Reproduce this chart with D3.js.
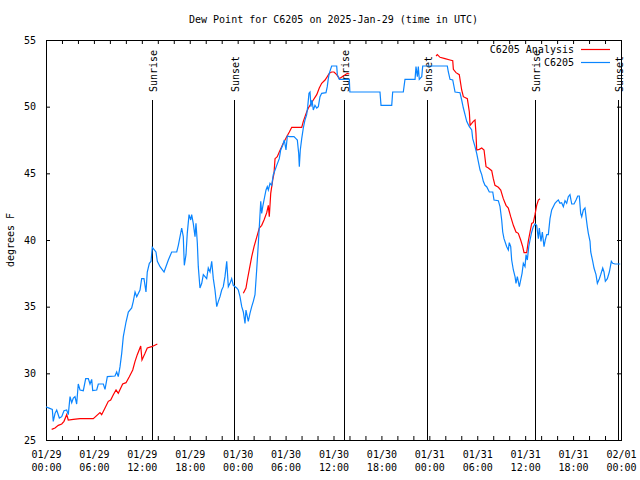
<!DOCTYPE html>
<html><head><meta charset="utf-8">
<script src="https://cdn.jsdelivr.net/npm/d3@7"></script>
<style>
html,body{margin:0;padding:0;background:#fff;}
svg{display:block;}
text{font-family:"DejaVu Sans Mono",monospace;font-size:10px;fill:#000;}
</style></head>
<body>
<script>
// ---- data (hours since 2025-01-29 00:00 UTC, dew point in °F) ----
const obsHours = [0.0,0.16,0.79,0.91,1.13,1.34,1.67,1.97,2.25,2.59,2.79,3.01,3.22,3.42,3.63,3.84,4.04,4.26,4.67,4.97,5.30,5.51,5.72,5.85,6.35,6.55,7.18,7.39,7.68,8.64,8.85,9.05,9.27,9.48,9.68,10.02,10.31,10.73,10.93,11.15,11.36,11.77,11.98,12.27,12.52,12.68,12.94,13.15,13.31,13.77,13.94,14.28,14.78,15.32,15.74,16.37,16.57,16.99,17.19,17.32,17.53,17.69,17.91,18.12,18.24,18.44,18.66,18.78,18.95,19.07,19.28,19.50,19.70,20.12,20.32,20.54,20.75,20.95,21.16,21.38,21.58,21.79,22.00,22.20,22.41,22.63,22.83,23.04,23.25,23.45,23.88,24.08,24.29,24.51,24.71,24.92,25.04,25.21,25.33,25.54,25.76,25.96,26.17,26.38,26.59,26.71,26.89,27.01,27.14,27.30,27.55,27.71,27.84,28.05,28.26,28.46,28.68,28.89,29.21,29.39,29.64,29.84,30.05,30.22,30.47,31.05,31.30,31.47,31.64,31.72,31.84,32.02,32.22,32.43,32.64,32.77,32.93,33.06,33.18,33.31,33.47,33.68,33.90,34.10,34.31,34.52,35.06,35.22,35.35,35.47,35.77,36.40,36.48,36.73,37.98,38.05,41.82,41.95,43.29,43.41,44.74,44.95,46.21,46.33,46.50,46.62,46.74,47.05,47.17,50.25,50.38,50.59,50.93,51.22,51.84,52.05,52.26,52.47,52.68,53.01,53.31,53.43,53.72,53.93,54.13,54.35,54.56,54.76,54.97,55.18,55.51,55.94,56.10,56.64,56.85,57.06,57.19,57.35,57.69,57.89,58.01,58.19,58.31,58.52,58.73,58.85,59.02,59.27,59.44,59.61,59.77,59.98,60.11,60.27,60.45,60.61,60.82,61.02,61.23,61.44,61.65,61.77,61.98,62.15,62.36,62.52,62.70,62.90,63.11,63.32,63.52,63.73,63.95,64.15,64.36,64.57,64.78,64.99,65.20,65.40,65.61,65.83,66.12,66.37,66.58,66.78,66.95,67.08,67.28,67.49,67.62,67.78,67.91,68.12,68.21,68.46,68.62,68.87,69.04,69.29,69.46,69.71,69.87,70.04,70.29,70.54,70.79,70.96,71.25,71.66,71.90];
const obsDew = [27.5,27.45,27.3,26.4,27.0,27.25,26.65,26.75,27.2,27.25,26.9,28.25,27.8,28.15,28.25,27.7,29.2,28.75,28.7,29.6,29.6,29.2,29.55,28.7,28.75,29.2,29.2,28.8,29.75,29.8,30.1,29.75,30.5,31.5,32.75,33.85,34.6,34.9,35.4,36.1,35.75,36.25,37.1,37.1,36.1,37.6,38.25,38.4,39.45,39.1,38.4,38.0,37.6,38.5,39.1,39.1,39.6,40.9,40.25,38.1,38.9,40.5,41.9,41.5,41.9,41.25,40.25,41.25,39.75,38.0,36.4,36.75,37.4,37.1,37.9,37.6,38.4,37.1,36.25,35.0,35.4,35.75,36.25,36.5,37.25,38.4,36.5,36.75,37.1,36.6,36.4,36.25,35.75,35.0,34.6,33.75,34.75,34.25,33.9,34.5,35.0,35.4,35.9,37.75,39.75,41.0,42.9,42.0,42.5,43.0,43.75,44.0,43.75,44.25,44.1,44.9,45.25,45.6,46.1,46.75,47.1,47.5,46.75,47.8,47.75,47.75,47.6,47.5,46.5,45.5,46.75,47.6,48.4,49.0,49.4,50.0,51.0,51.1,50.0,50.5,49.75,50.1,49.9,50.0,50.75,51.0,51.05,51.5,52.1,52.5,53.05,53.05,52.4,52.05,52.05,51.1,51.1,50.1,50.1,51.1,51.1,52.05,52.05,53.0,52.25,53.0,52.05,52.25,53.05,53.05,52.6,52.05,52.0,51.1,51.05,50.5,49.9,49.4,48.9,48.5,48.25,47.6,47.0,46.5,45.9,45.25,44.9,44.4,44.1,44.0,43.6,43.6,43.0,42.95,42.5,41.5,40.6,40.1,39.5,39.25,39.8,39.5,38.5,37.75,37.25,36.75,37.25,36.5,37.0,37.5,38.25,38.0,38.9,38.5,39.5,40.0,40.6,41.0,41.2,41.1,40.1,40.9,39.9,40.6,39.5,40.0,40.4,40.4,41.6,42.25,42.5,42.75,42.9,43.0,42.75,42.8,42.5,42.95,42.75,43.25,43.4,42.7,42.7,43.0,43.3,43.3,42.0,41.75,42.25,42.4,41.75,41.0,40.5,39.9,39.1,38.4,37.9,37.4,36.75,37.1,37.4,37.9,37.6,36.9,37.1,37.6,38.4,38.25,38.2,38.2,38.2];

// analysis series; null marks a gap
const anaHours = [0.71,1.13,1.54,1.97,2.25,2.59,2.79,3.42,4.26,5.30,5.92,6.76,6.97,7.39,7.80,8.10,8.43,8.77,9.05,9.60,10.02,10.43,10.86,11.15,11.43,11.86,12.02,12.40,12.68,13.24,13.94,
  null,
  24.71,25.04,25.21,25.46,25.76,26.05,26.38,26.71,27.01,27.30,27.64,27.84,27.96,28.14,28.39,28.55,28.68,28.96,29.21,29.51,29.71,30.14,30.47,30.77,32.02,32.22,32.43,32.64,32.85,33.06,33.47,33.90,34.22,34.52,34.94,35.22,35.47,35.77,36.06,36.40,36.73,37.23,37.73,37.98,
  null,
  48.84,49.00,49.34,49.96,50.59,50.93,51.01,51.34,51.75,52.05,52.26,52.76,53.01,53.10,53.31,53.51,53.72,53.84,53.93,54.26,54.56,54.85,55.10,55.39,55.81,56.01,56.22,56.64,56.94,57.26,57.60,57.89,58.19,58.52,58.85,59.14,59.44,59.69,59.86,60.19,60.39,60.61,60.82,61.02,61.23,61.44,61.65,61.86];
const anaDew = [25.8,25.9,26.1,26.2,26.4,26.9,26.5,26.55,26.6,26.6,26.6,27.05,26.9,27.4,27.9,28.0,28.4,28.75,28.5,29.2,29.3,29.75,30.25,30.9,31.4,32.05,31.0,31.5,31.9,32.0,32.2,
  null,
  36.0,36.4,37.0,37.8,38.75,39.5,40.2,40.9,41.1,41.5,42.05,42.6,41.75,43.5,44.5,45.0,46.1,46.25,46.6,47.0,47.25,47.75,48.1,48.45,48.45,48.9,49.25,49.6,49.9,50.1,50.5,50.9,51.4,51.75,52.0,52.25,52.5,52.6,52.6,52.4,52.1,52.3,52.5,52.45,
  null,
  53.8,53.9,53.7,53.6,53.5,53.45,52.8,52.55,52.4,51.25,50.75,50.6,49.6,48.6,48.75,48.9,49.0,48.0,46.75,46.8,46.9,46.75,45.5,45.4,45.2,44.6,44.1,43.95,43.75,43.1,42.6,42.4,41.75,41.1,40.6,40.5,40.0,39.5,39.05,39.05,39.9,40.6,41.25,41.3,41.9,42.6,43.0,43.1];

const sunLabels = ["Sunrise","Sunset","Sunrise","Sunset","Sunrise","Sunset"];
const sunHours = [13.31,23.58,37.35,47.67,61.27,71.66];

const yTicks = [25,30,35,40,45,50,55];
const seriesNames = ["C6205 Analysis","C6205"];
const seriesColors = ["#ff0000","#0a85ff"];
const titleText = "Dew Point for C6205 on 2025-Jan-29 (time in UTC)";
const yLabel = "degrees F";

// ---- chart ----
const W = 640, H = 480;
const L = 46, R = 621, T = 40, B = 440;
const t0 = Date.UTC(2025,0,29);
const toDate = h => new Date(t0 + h*3600e3);

const svg = d3.select("body").append("svg").attr("width",W).attr("height",H);

const x = d3.scaleUtc().domain([new Date(t0), new Date(Date.UTC(2025,1,1))]).range([L,R]);
const y = d3.scaleLinear().domain([25,55]).range([B,T]);

const tick2h = d3.utcHour.every(2).range(x.domain()[0], new Date(+x.domain()[1]+1));
const tick6h = d3.utcHour.every(6).range(x.domain()[0], new Date(+x.domain()[1]+1));

function clean(g){ g.select(".domain").remove(); g.selectAll("line").attr("stroke","#000"); }

// bottom minor/major ticks
svg.append("g").attr("transform",`translate(0,${B})`)
  .call(d3.axisBottom(x).tickValues(tick2h).tickSize(-4).tickFormat(""))
  .call(clean);
svg.append("g").attr("transform",`translate(0,${T})`)
  .call(d3.axisTop(x).tickValues(tick2h).tickSize(-4).tickFormat(""))
  .call(clean);
// bottom labels
const fmtD = d3.utcFormat("%m/%d"), fmtT = d3.utcFormat("%H:%M");
const xl = svg.append("g").attr("transform",`translate(0,${B})`)
  .call(d3.axisBottom(x).tickValues(tick6h).tickSize(0).tickFormat(""))
  .call(clean);
xl.selectAll(".tick").each(function(d){
  const t = d3.select(this).append("text").attr("text-anchor","middle").attr("fill","#000")
    .style("font-family","DejaVu Sans Mono, monospace").style("font-size","10px");
  t.append("tspan").attr("x",0).attr("y",18).text(fmtD(d));
  t.append("tspan").attr("x",0).attr("y",31).text(fmtT(d));
});

// y axes
svg.append("g").attr("transform",`translate(${L},0)`)
  .call(d3.axisLeft(y).tickValues(yTicks).tickSize(-4).tickPadding(10).tickFormat(d3.format("d")))
  .call(clean)
  .call(g=>g.selectAll("text").attr("fill","#000").style("font-family","DejaVu Sans Mono, monospace").style("font-size","10px"));
svg.append("g").attr("transform",`translate(${R},0)`)
  .call(d3.axisRight(y).tickValues(yTicks).tickSize(-4).tickFormat(""))
  .call(clean);

// border
svg.append("rect").attr("x",L).attr("y",T).attr("width",R-L).attr("height",B-T)
  .attr("fill","none").attr("stroke","#000").attr("stroke-width",1)
  .attr("shape-rendering","crispEdges");

// sunrise/sunset lines
const sun = svg.append("g");
sunHours.forEach((h,i)=>{
  const sx = Math.round(x(toDate(h)))+0.5;
  sun.append("line").attr("x1",sx).attr("x2",sx).attr("y1",100).attr("y2",B)
    .attr("stroke","#000").attr("stroke-width",1).attr("shape-rendering","crispEdges");
  sun.append("text").attr("transform",`translate(${sx+4},92) rotate(-90)`)
    .attr("text-anchor","start").text(sunLabels[i]);
});

// series
const obs = obsHours.map((h,i)=>[h,obsDew[i]]);
const ana = anaHours.map((h,i)=>[h,anaDew[i]]);
const line = d3.line().defined(d=>d[0]!=null && d[1]!=null)
  .x(d=>x(toDate(d[0]))).y(d=>y(d[1]));
svg.append("path").datum(ana).attr("d",line).attr("fill","none")
  .attr("stroke",seriesColors[0]).attr("stroke-width",1.2);
svg.append("path").datum(obs).attr("d",line).attr("fill","none")
  .attr("stroke",seriesColors[1]).attr("stroke-width",1.2);

// title & y label
svg.append("text").attr("x",(L+R)/2).attr("y",23).attr("text-anchor","middle").text(titleText);
svg.append("text").attr("transform",`translate(14,${(T+B)/2}) rotate(-90)`)
  .attr("text-anchor","middle").text(yLabel);

// legend
const leg = svg.append("g");
seriesNames.forEach((n,i)=>{
  const ly = 49.5 + i*13;
  leg.append("text").attr("x",574).attr("y",ly+3.5).attr("text-anchor","end").text(n);
  leg.append("line").attr("x1",581).attr("x2",610).attr("y1",ly).attr("y2",ly)
    .attr("stroke",seriesColors[i]).attr("stroke-width",1.2);
});
</script>
</body></html>
